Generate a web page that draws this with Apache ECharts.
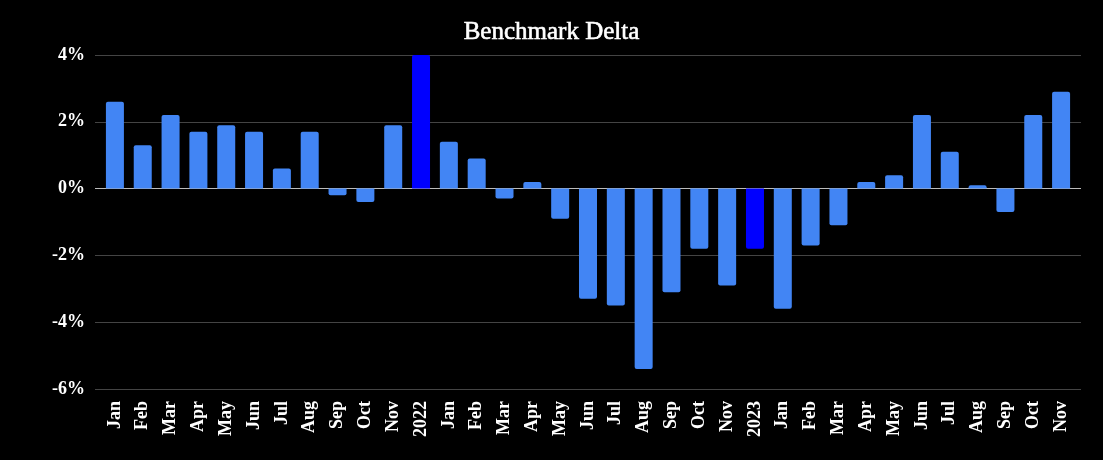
<!DOCTYPE html>
<html>
<head>
<meta charset="utf-8">
<script src="https://cdn.jsdelivr.net/npm/echarts@6/dist/echarts.min.js"></script>
<style>html,body{margin:0;padding:0;background:#000;}#c{width:1103px;height:460px;}</style>
</head>
<body>
<div id="c"></div>
<script>
const categories = ["Jan","Feb","Mar","Apr","May","Jun","Jul","Aug","Sep","Oct","Nov","2022",
  "Jan","Feb","Mar","Apr","May","Jun","Jul","Aug","Sep","Oct","Nov","2023",
  "Jan","Feb","Mar","Apr","May","Jun","Jul","Aug","Sep","Oct","Nov"];
const values = [2.6,1.3,2.2,1.7,1.9,1.7,0.6,1.7,-0.2,-0.4,1.9,4.0,
  1.4,0.9,-0.3,0.2,-0.9,-3.3,-3.5,-5.4,-3.1,-1.8,-2.9,-1.8,
  -3.6,-1.7,-1.1,0.2,0.4,2.2,1.1,0.1,-0.7,2.2,2.9];
const yearCats = ["2022","2023"];
const monthColor = "#4285F4";
const yearColor = "#0000FF";

const font = "'Liberation Serif','Times New Roman',serif";
const chart = echarts.init(document.getElementById('c'));
chart.setOption({
  backgroundColor: '#000',
  animation: false,
  title: {
    text: 'Benchmark Delta', left: 'center', top: 15,
    textStyle: {color: '#fff', fontFamily: font, fontWeight: 'normal', fontSize: 25,
      textBorderColor: '#fff', textBorderWidth: 0.6}
  },
  grid: [
    {left: 101, right: 28, top: 55, bottom: 71, containLabel: false},
    {left: 95, right: 22, top: 55, bottom: 71, containLabel: false}
  ],
  xAxis: [
    {type: 'category', gridIndex: 0, data: categories,
     axisLine: {show: false}, axisTick: {show: false},
     axisLabel: {rotate: 90, interval: 0, margin: 12, color: '#fff', fontFamily: font, fontWeight: 'bold', fontSize: 18}},
    {type: 'category', gridIndex: 1, data: ['a'], show: false}
  ],
  yAxis: [
    {type: 'value', gridIndex: 0, min: -6, max: 4, interval: 2,
     axisLabel: {show: false}, splitLine: {show: false}, axisLine: {show: false}, axisTick: {show: false}},
    {type: 'value', gridIndex: 1, min: -6, max: 4, interval: 2,
     axisLine: {show: false}, axisTick: {show: false},
     axisLabel: {formatter: '{value}%', margin: 10, color: '#fff', fontFamily: font, fontWeight: 'bold', fontSize: 18},
     splitLine: {lineStyle: {color: ['#444','#444','#444','#bbb','#444','#444'], width: 1}}}
  ],
  series: [{
    type: 'bar', xAxisIndex: 0, yAxisIndex: 0,
    barWidth: 18,
    z: 3,
    data: values.map((v, i) => ({
      value: v,
      itemStyle: {
        color: yearCats.includes(categories[i]) ? yearColor : monthColor,
        borderRadius: v >= 0 ? [2,2,0,0] : [0,0,2,2]
      }
    }))
  }]
});
</script>
</body>
</html>
